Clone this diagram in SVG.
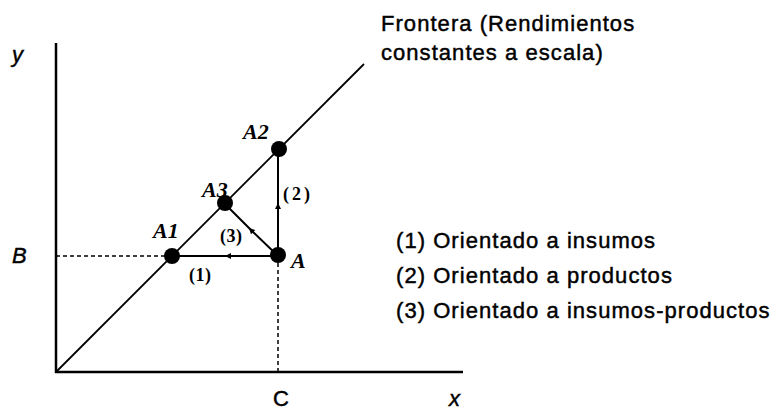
<svg xmlns="http://www.w3.org/2000/svg" width="775" height="412" viewBox="0 0 775 412">
<style>
.axis{stroke:#000;stroke-width:2.5;fill:none}
.dash{stroke:#000;stroke-width:1.5;stroke-dasharray:4 3;fill:none}
.front{stroke:#000;stroke-width:1.8;fill:none}
.conn{stroke:#000;stroke-width:2;fill:none}
.dot{fill:#000}
.sans{font-family:"Liberation Sans",Arial,sans-serif;font-size:22px;fill:#000;stroke:#000;stroke-width:0.45px}
.txt{letter-spacing:1.05px}
.it{font-style:italic}
.ser{font-family:"Liberation Serif","Times New Roman",serif;font-style:italic;font-weight:bold;font-size:22px;fill:#000}
.num{font-family:"Liberation Serif","Times New Roman",serif;font-weight:bold;font-size:18px;fill:#000}
</style>
<defs>
<marker id="ah" markerWidth="8" markerHeight="8" refX="4" refY="4" orient="auto" markerUnits="userSpaceOnUse">
<path d="M1,1 L7,4 L1,7 Z" fill="#000"/>
</marker>
</defs>
<g id="axes">
<line class="axis" x1="56" y1="43" x2="56" y2="373"/>
<line class="axis" x1="55" y1="372" x2="463" y2="372"/>
<text class="sans it" x="12" y="62">y</text>
<text class="sans it" x="12" y="263">B</text>
<text class="sans" x="273" y="406" font-size="21">C</text>
<text class="sans it" x="449" y="406" font-size="21">x</text>
</g>
<g id="guides">
<line class="dash" x1="56" y1="256" x2="172" y2="256"/>
<line class="dash" x1="278" y1="256" x2="278" y2="372"/>
</g>
<g id="frontier">
<line class="front" x1="56" y1="372" x2="364" y2="64"/>
<text class="sans txt" x="381" y="31">Frontera (Rendimientos</text>
<text class="sans txt" x="381" y="60">constantes a escala)</text>
</g>
<g id="connectors">
<path class="conn" d="M278,256 L228,256 L172,256" marker-mid="url(#ah)"/>
<path class="conn" d="M278,256 L278,206 L278,150" marker-mid="url(#ah)"/>
<path class="conn" d="M278,256 L251,230 L225,204" marker-mid="url(#ah)"/>
<text class="num" x="189" y="281" letter-spacing="0.5">(1)</text>
<text class="num" x="283" y="200" letter-spacing="3">(2)</text>
<text class="num" x="220" y="242" letter-spacing="0.5">(3)</text>
</g>
<g id="node-A">
<circle class="dot" cx="278" cy="255" r="8"/>
<text class="ser" x="291" y="268" font-size="24">A</text>
</g>
<g id="node-A1">
<circle class="dot" cx="172" cy="256" r="8"/>
<text class="ser" x="153" y="238">A1</text>
</g>
<g id="node-A2">
<circle class="dot" cx="279" cy="149" r="8"/>
<text class="ser" x="243" y="139">A2</text>
</g>
<g id="node-A3">
<circle class="dot" cx="225" cy="203" r="8"/>
<text class="ser" x="202" y="197">A3</text>
</g>
<g id="legend">
<text class="sans txt" x="396" y="248">(1) Orientado a insumos</text>
<text class="sans txt" x="396" y="283">(2) Orientado a productos</text>
<text class="sans txt" x="396" y="318">(3) Orientado a insumos-productos</text>
</g>
</svg>
